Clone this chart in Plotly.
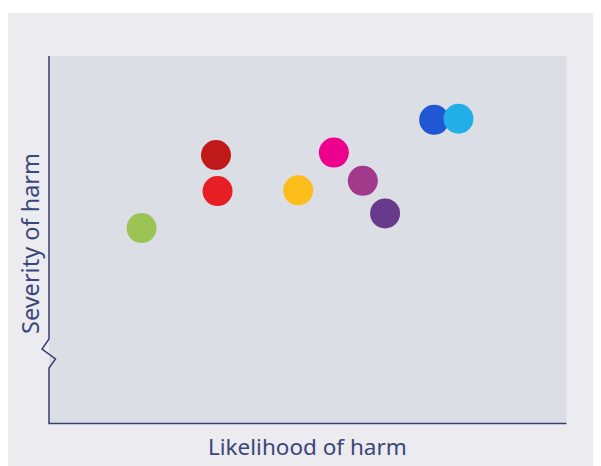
import plotly.graph_objects as go

# Data (likelihood on x, severity on y; arbitrary 0-10 scale)
names = ["Green", "Dark red", "Red", "Yellow", "Magenta", "Plum", "Purple", "Blue", "Cyan"]
likelihood = [1.79, 3.23, 3.26, 4.82, 5.51, 6.07, 6.50, 7.45, 7.92]
severity = [5.31, 7.30, 6.32, 6.34, 7.37, 6.60, 5.71, 8.26, 8.29]
colors = ["#9bc455", "#c0191a", "#e81e25", "#fdbd1a", "#ec008c",
          "#a3398a", "#673a8c", "#1f58d2", "#22aee6"]

OFF = 8  # page body margin offset
W, H = 601, 466
L, R, T, B = 49 - OFF, 566 - OFF, 56 - OFF, 423 - OFF
pw, ph = R - L, B - T

def px(x):
    return (x - OFF - L) / pw

def py(y):
    return (B - (y - OFF)) / ph

fig = go.Figure()
fig.add_trace(go.Scatter(
    x=likelihood, y=severity, mode="markers", text=names,
    marker=dict(size=30, color=colors, line=dict(width=0), opacity=1),
    hoverinfo="text", showlegend=False,
))

axis_path = "M {} {} L {} {} L {} {} L {} {} L {} {} L {} {} L {} {}".format(
    px(49), py(56), px(49), py(339), px(42), py(349), px(55.5), py(359),
    px(49), py(368), px(49), py(423.5), px(566.5), py(423.5))

shapes = [
    dict(type="rect", xref="paper", yref="paper", layer="below",
         x0=px(8), x1=px(620), y0=py(480), y1=py(13),
         fillcolor="#ebebf0", line=dict(width=0)),
    dict(type="rect", xref="paper", yref="paper", layer="below",
         x0=px(49), x1=px(566.5), y0=py(423.5), y1=py(56),
         fillcolor="#dcdee5", line=dict(width=0)),
    dict(type="path", xref="paper", yref="paper", layer="above",
         path=axis_path, line=dict(color="#34406e", width=1.5)),
]

fig.update_layout(
    width=W, height=H,
    margin=dict(l=L, r=W - R, t=T, b=H - B, pad=0),
    paper_bgcolor="white", plot_bgcolor="rgba(0,0,0,0)",
    shapes=shapes,
    xaxis=dict(range=[0, 10], visible=False, fixedrange=True),
    yaxis=dict(range=[0, 10], visible=False, fixedrange=True),
    annotations=[
        dict(text="Likelihood of harm", xref="paper", yref="paper",
             x=px(307), y=py(446.5), xanchor="center", yanchor="middle",
             showarrow=False, font=dict(family="Noto Sans", size=22.5, color="#3b4679")),
        dict(text="Severity of harm", xref="paper", yref="paper",
             x=px(30), y=py(244), xanchor="center", yanchor="middle", textangle=-90,
             showarrow=False, font=dict(family="Noto Sans", size=23.5, color="#3b4679")),
    ],
)

fig.write_html("out.html")
